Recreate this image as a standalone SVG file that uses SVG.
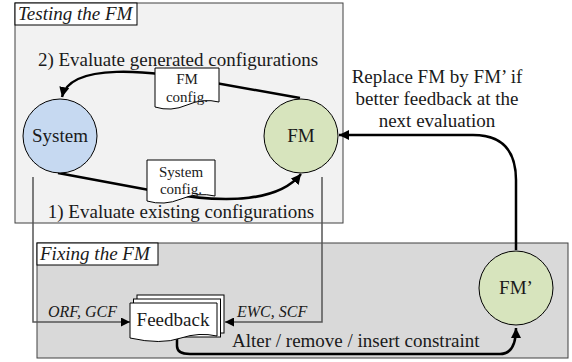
<svg xmlns="http://www.w3.org/2000/svg" width="572" height="362" viewBox="0 0 572 362" font-family="'Liberation Serif', 'DejaVu Serif', serif">
<defs>
<style>
text{fill:#1a1a1a}
.it{font-style:italic}
.t19{font-size:19px}
.t16{font-size:16px}
.t15{font-size:15px}
.conn{fill:none;stroke:#000;stroke-width:2.5}
.thin{fill:none;stroke:#555;stroke-width:1.5}
.doc{fill:#fff;stroke:#000;stroke-width:1}
.node{stroke:#000;stroke-width:1}
</style>
<marker id="ah" viewBox="0 0 10 10" refX="10" refY="5" markerWidth="4" markerHeight="4" orient="auto" markerUnits="strokeWidth">
<path d="M0,0 L10,5 L0,10 Z" fill="#000"/>
</marker>
<marker id="ahs" viewBox="0 0 10 10" refX="10" refY="5" markerWidth="6" markerHeight="6" orient="auto" markerUnits="strokeWidth">
<path d="M0,0 L10,5 L0,10 Z" fill="#000"/>
</marker>
</defs>
<rect width="572" height="362" fill="#fff"/>
<g id="testing">
<rect x="15" y="3" width="328" height="220" fill="#f2f2f2" stroke="#404040" stroke-width="1"/>
<rect x="15" y="3" width="122" height="22" fill="#fff" stroke="#000" stroke-width="1"/>
<text class="it t19" x="18" y="20">Testing the FM</text>
<text class="t19" x="178" y="66" text-anchor="middle">2) Evaluate generated configurations</text>
<text class="t19" x="181" y="218" text-anchor="middle">1) Evaluate existing configurations</text>
</g>
<g id="fixing">
<rect x="37" y="243" width="531" height="115" fill="#d9d9d9" stroke="#404040" stroke-width="1"/>
<rect x="37" y="243" width="121" height="22" fill="#fff" stroke="#000" stroke-width="1"/>
<text class="it t19" x="40" y="260">Fixing the FM</text>
</g>
<g id="connectors">
<path class="conn" d="M300,98 L210,82 C150,70 70,62 62,97" marker-end="url(#ah)"/>
<path class="conn" d="M58,173 L160,192 C230,205 280,200 301,174" marker-end="url(#ah)"/>
<path class="conn" d="M516,250 V180 Q516,135 473,135 H339" marker-end="url(#ah)"/>
<path class="conn" d="M177,336 V346 Q177,354 190,354 H500 Q516,354 516,328" marker-end="url(#ah)"/>
<path class="thin" d="M33,177 V322 H130" marker-end="url(#ahs)"/>
<path class="thin" d="M322,177 V322 H225" marker-end="url(#ahs)"/>
</g>
<g id="system">
<circle class="node" cx="60" cy="136" r="37" fill="#c6d9f1"/>
<text class="t19" x="60" y="142" text-anchor="middle">System</text>
</g>
<g id="fm">
<circle class="node" cx="301" cy="136" r="37" fill="#d7e4bd"/>
<text class="t19" x="301" y="142" text-anchor="middle">FM</text>
</g>
<g id="fm-config">
<path class="doc" d="M155,68 H219 V102 Q203,98 187,105 Q171,112 155,107 Z"/>
<text class="t15" x="187" y="84" text-anchor="middle">FM</text>
<text class="t15" x="187" y="102" text-anchor="middle">config.</text>
</g>
<g id="system-config">
<path class="doc" d="M147,160 H215 V196 Q198,192 181,199 Q164,206 147,201 Z"/>
<text class="t15" x="181" y="177" text-anchor="middle">System</text>
<text class="t15" x="181" y="194" text-anchor="middle">config.</text>
</g>
<g id="replace-label">
<text class="t19" x="437" y="83" text-anchor="middle">Replace FM by FM’ if</text>
<text class="t19" x="437" y="105" text-anchor="middle">better feedback at the</text>
<text class="t19" x="437" y="127" text-anchor="middle">next evaluation</text>
</g>
<g id="feedback">
<rect class="doc" x="137" y="295" width="87" height="38"/>
<rect class="doc" x="133.5" y="299" width="87" height="38"/>
<path class="doc" d="M130,303 H217 V336 Q199,332 181,338 Q161,345 130,338 Z"/>
<text class="t19" x="173" y="326" text-anchor="middle">Feedback</text>
</g>
<g id="labels">
<text class="it t16" x="48" y="317">ORF, GCF</text>
<text class="it t16" x="237" y="317">EWC, SCF</text>
<text class="t19" x="232" y="347">Alter / remove / insert constraint</text>
</g>
<g id="fm-prime">
<circle class="node" cx="516" cy="288" r="37" fill="#d7e4bd"/>
<text class="t19" x="516" y="294" text-anchor="middle">FM’</text>
</g>
</svg>
